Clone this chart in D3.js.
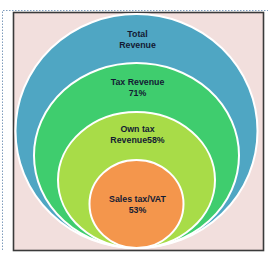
<!DOCTYPE html>
<html><head><meta charset="utf-8">
<script src="https://cdn.jsdelivr.net/npm/d3@7"></script>
<style>html,body{margin:0;padding:0;background:#fff;}svg{display:block;}</style>
</head><body>
<script>
const categories = ["Total Revenue", "Tax Revenue", "Own tax Revenue", "Sales tax/VAT"];
const labelLines = [["Total", "Revenue"], ["Tax Revenue", "71%"], ["Own tax", "Revenue58%"], ["Sales tax/VAT", "53%"]];
const values = [100, 71, 58, 53];
const colors = ["#4fa6c3", "#3fcd6e", "#a8dc48", "#f4964c"];

const W = 276, H = 265;
const svg = d3.select("body").append("svg").attr("width", W).attr("height", H);

// outer dotted frame
svg.append("path").attr("d", "M2.5,250 V10.5 H268")
  .attr("fill", "none").attr("stroke", "#7f9cbc").attr("stroke-width", 1).attr("stroke-dasharray", "1.5,1.5");

// panel
svg.append("rect").attr("x", 13.5).attr("y", 12.5).attr("width", 250).attr("height", 238)
  .attr("fill", "#f2dfdd").attr("stroke", "#3a3a3a").attr("stroke-width", 1.6);

const rx = d3.scaleLinear().domain([53, 58, 71, 100]).range([47, 78.5, 102.5, 121]);
const ry = d3.scaleLinear().domain([53, 58, 71, 100]).range([44, 68, 92.5, 117]);
const baseY = 248;

const g = svg.append("g");
g.selectAll("ellipse").data(values).join("ellipse")
  .attr("cx", 136.5)
  .attr("cy", d => baseY - ry(d))
  .attr("rx", d => rx(d))
  .attr("ry", d => ry(d))
  .attr("fill", (d, i) => colors[i])
  .attr("stroke", "#ffffff").attr("stroke-width", 2);

const labelY = [37, 85, 132, 202];
labelLines.forEach((lines, i) => {
  const t = svg.append("text").attr("x", 137.5).attr("y", labelY[i])
    .attr("text-anchor", "middle")
    .attr("font-family", "Liberation Sans, Arial, sans-serif")
    .attr("font-weight", "bold").attr("font-size", 8.8).attr("fill", "#131b33");
  lines.forEach((s, j) => t.append("tspan").attr("x", 137.5).attr("dy", j ? 11 : 0).text(s));
});
</script>
</body></html>
